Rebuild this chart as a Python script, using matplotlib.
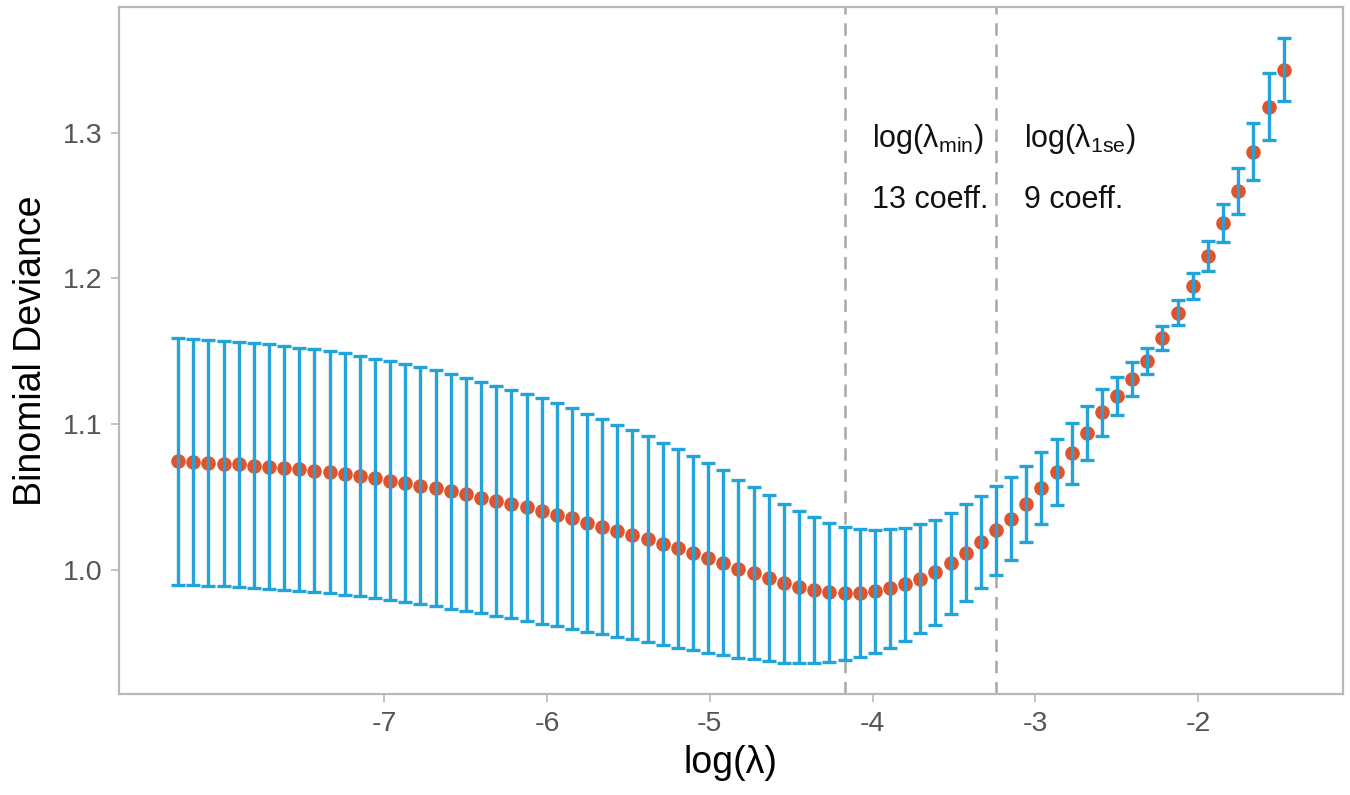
import matplotlib
matplotlib.use("Agg")
import matplotlib.pyplot as plt

plt.rcParams["font.family"] = ["Liberation Sans", "DejaVu Sans"]
plt.rcParams["mathtext.default"] = "regular"

# ── данные: log(lambda), средняя девиация CV и её стандартная ошибка ──────────
LOG_LAMBDA = [
    -8.266, -8.173, -8.080, -7.987, -7.894, -7.801, -7.708, -7.615, -7.522, -7.429,
    -7.336, -7.243, -7.150, -7.057, -6.964, -6.871, -6.778, -6.685, -6.591, -6.498,
    -6.405, -6.312, -6.219, -6.126, -6.033, -5.940, -5.847, -5.754, -5.661, -5.568,
    -5.475, -5.382, -5.289, -5.196, -5.103, -5.010, -4.917, -4.824, -4.731, -4.638,
    -4.545, -4.452, -4.359, -4.266, -4.172, -4.079, -3.986, -3.893, -3.800, -3.707,
    -3.614, -3.521, -3.428, -3.335, -3.242, -3.149, -3.056, -2.963, -2.870, -2.777,
    -2.684, -2.591, -2.498, -2.405, -2.312, -2.219, -2.126, -2.033, -1.940, -1.847,
    -1.753, -1.660, -1.567, -1.474,
]
CV_MEAN = [
    1.0743, 1.0738, 1.0733, 1.0728, 1.0722, 1.0715, 1.0707, 1.0698, 1.0689, 1.0679,
    1.0668, 1.0656, 1.0643, 1.0626, 1.0610, 1.0594, 1.0577, 1.0559, 1.0538, 1.0516,
    1.0495, 1.0474, 1.0452, 1.0428, 1.0403, 1.0378, 1.0351, 1.0323, 1.0295, 1.0266,
    1.0238, 1.0208, 1.0178, 1.0145, 1.0113, 1.0080, 1.0046, 1.0006, 0.9978, 0.9942,
    0.9905, 0.9880, 0.9860, 0.9845, 0.9838, 0.9840, 0.9850, 0.9872, 0.9898, 0.9938,
    0.9980, 1.0045, 1.0115, 1.0190, 1.0270, 1.0350, 1.0450, 1.0560, 1.0670, 1.0800,
    1.0940, 1.1080, 1.1190, 1.1310, 1.1435, 1.1590, 1.1765, 1.1950, 1.2155, 1.2380,
    1.2600, 1.2870, 1.3180, 1.3435,
]
CV_SE = [
    0.0847, 0.0846, 0.0845, 0.0844, 0.0843, 0.0842, 0.0840, 0.0838, 0.0836, 0.0834,
    0.0832, 0.0829, 0.0826, 0.0823, 0.0820, 0.0817, 0.0814, 0.0810, 0.0806, 0.0800,
    0.0795, 0.0790, 0.0785, 0.0780, 0.0774, 0.0765, 0.0757, 0.0749, 0.0740, 0.0730,
    0.0718, 0.0707, 0.0695, 0.0683, 0.0668, 0.0652, 0.0635, 0.0612, 0.0590, 0.0570,
    0.0546, 0.0525, 0.0500, 0.0477, 0.0456, 0.0440, 0.0425, 0.0410, 0.0390, 0.0377,
    0.0364, 0.0347, 0.0333, 0.0316, 0.0305, 0.0285, 0.0260, 0.0245, 0.0225, 0.0210,
    0.0185, 0.0160, 0.0130, 0.0115, 0.0090, 0.0080, 0.0085, 0.0090, 0.0105, 0.0130,
    0.0160, 0.0195, 0.0230, 0.0215,
]
LAMBDA_MIN = -4.172
LAMBDA_1SE = -3.242
LABELS_TOP = [r"log(λ$_{min}$)", r"log(λ$_{1se}$)"]
LABELS_BOTTOM = ["13 coeff.", "9 coeff."]

X_TICKS = [-7, -6, -5, -4, -3, -2]
Y_TICKS = [1.0, 1.1, 1.2, 1.3]

BLUE = "#22A4DA"
RED = "#E2522B"
GREY = "#B8B8B8"

fig = plt.figure(figsize=(13.5, 7.95), dpi=100)
ax = fig.add_axes([0.0881, 0.127, 0.9067, 0.8642])

ax.plot(LOG_LAMBDA, CV_MEAN, "o", ms=10.5, color=RED, mec="none", zorder=2)
ax.errorbar(LOG_LAMBDA, CV_MEAN, yerr=CV_SE, fmt="none", ecolor=BLUE,
            elinewidth=2.4, capsize=5, capthick=2.4, zorder=3)

for xv in (LAMBDA_MIN, LAMBDA_1SE):
    ax.axvline(xv, color="#A8A8A8", lw=1.8, ls=(0, (5, 3.5)), zorder=1)

for xv, t1, t2 in zip((LAMBDA_MIN, LAMBDA_1SE), LABELS_TOP, LABELS_BOTTOM):
    ax.text(xv + 0.17, 1.296, t1, fontsize=22, va="center", ha="left", color="#111111")
    ax.text(xv + 0.17, 1.254, t2, fontsize=22, va="center", ha="left", color="#111111")

ax.set_xlim(-8.63, -1.11)
ax.set_ylim(0.9145, 1.3865)
ax.set_xticks(X_TICKS)
ax.set_xticklabels([str(v) for v in X_TICKS])
ax.set_yticks(Y_TICKS)
ax.set_yticklabels([f"{v:.1f}" for v in Y_TICKS])
ax.tick_params(axis="both", length=6, width=1.2, color=GREY, labelsize=20.5,
               labelcolor="#555555", pad=6)

for sp in ax.spines.values():
    sp.set_color(GREY)
    sp.set_linewidth(1.6)

ax.set_xlabel("log(λ)", fontsize=27, labelpad=6)
ax.set_ylabel("Binomial Deviance", fontsize=27, labelpad=10)

fig.savefig("out.png", dpi=100)
plt.close(fig)
